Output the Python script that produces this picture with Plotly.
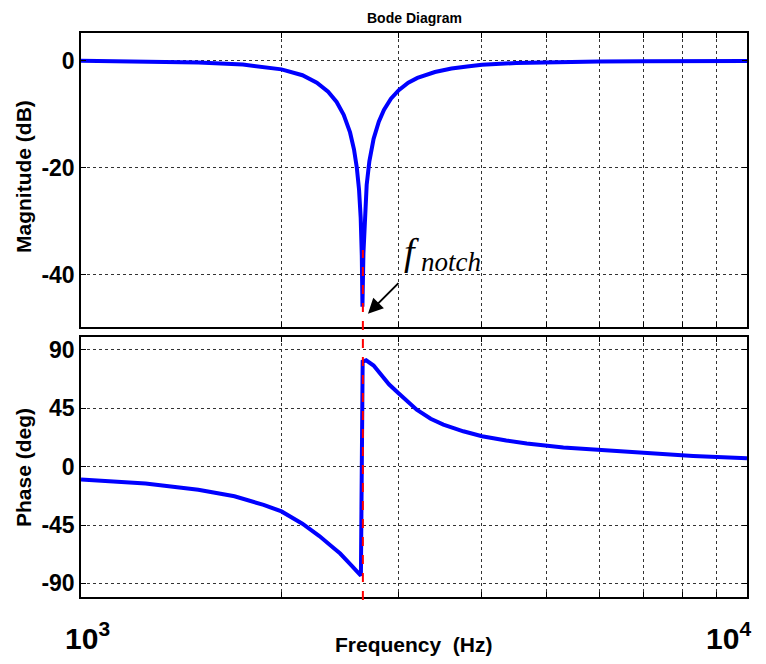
import math
import plotly.graph_objects as go

# ---- data ----
freq_mag = [1000, 1250, 1500, 1750, 2000, 2150, 2260, 2350, 2420, 2480, 2535, 2570,
            2595, 2615, 2630, 2640, 2646, 2655, 2668, 2685, 2710, 2750, 2800, 2850,
            2920, 3000, 3100, 3200, 3400, 3600, 3800, 4000, 4500, 5000, 6000, 7000,
            8500, 10000]
mag_db = [0.0, -0.1, -0.3, -0.7, -1.6, -2.7, -4.1, -5.8, -7.7, -10.1, -13.4, -16.6,
          -20.0, -24.1, -29.4, -36.4, -46.0, -36.0, -28.5, -23.2, -18.8, -14.6, -11.4, -9.2,
          -7.1, -5.5, -4.1, -3.2, -2.1, -1.45, -1.05, -0.75, -0.4, -0.25, -0.15, -0.1,
          -0.07, -0.05]

freq_ph = [1000, 1250, 1500, 1700, 1880, 2000, 2150, 2280, 2380, 2450, 2530, 2580,
           2610, 2632, 2648, 2680, 2750, 2811, 2900, 2995, 3100, 3192, 3350, 3500,
           3750, 4000, 4350, 4670, 5300, 6000, 7000, 8300, 10000]
phase_deg = [-9.8, -13.0, -17.8, -22.8, -29.5, -34.5, -44.0, -53.5, -61.5, -67.0, -74.5, -79.5,
             -82.5, -84.0, 81.0, 82.0, 78.0, 72.0, 63.5, 56.8, 49.5, 44.0, 37.0, 32.5,
             27.3, 23.5, 20.2, 17.8, 14.8, 12.8, 10.3, 8.3, 6.5]

f_notch = 2650

x_gridvals = [1000, 2000, 3000, 4000, 5000, 6000, 7000, 8000, 9000, 10000]
x_labelvals = [1000, 10000]
x_labeltext = ["10<sup>3</sup>", "10<sup>4</sup>"]
mag_ticks = [-40, -20, 0]
mag_ticktext = ["-40", "-20", "0"]
phase_ticks = [-90, -45, 0, 45, 90]
phase_ticktext = ["-90", "-45", "0", "45", "90"]

# ---- geometry (page is drawn with an 8px body margin) ----
OFF = 8
W, H = 766 - OFF, 664 - OFF
ML, MR, MT, MB = 81 - OFF, 19, 33 - OFF, 67
PW, PH = W - ML - MR, H - MT - MB
PLOT_L, PLOT_B = 81, 597


def px_x(px):
    return (px - PLOT_L) / PW


def px_y(py):
    return (PLOT_B - py) / PH


fig = go.Figure()
blue = "rgb(0,0,255)"
fig.add_trace(go.Scatter(x=freq_mag, y=mag_db, mode="lines",
                         line=dict(color=blue, width=4), xaxis="x", yaxis="y",
                         showlegend=False))
fig.add_trace(go.Scatter(x=freq_ph, y=phase_deg, mode="lines",
                         line=dict(color=blue, width=4), xaxis="x2", yaxis="y2",
                         showlegend=False))

axis_common = dict(showline=True, linecolor="black", linewidth=1.5, mirror="ticks",
                   ticks="inside", ticklen=5, tickcolor="black", automargin=False,
                   showgrid=True, gridcolor="#333", griddash="dot", gridwidth=1,
                   zeroline=False)
FONT = "Liberation Sans, Arial"
tickfont = dict(family=FONT, size=23, color="black", weight="bold")

fig.update_layout(
    width=W, height=H,
    margin=dict(l=ML, r=MR, t=MT, b=MB),
    paper_bgcolor="white", plot_bgcolor="white",
    xaxis=dict(type="log", range=[3, 4], domain=[0, 1], anchor="y",
               tickvals=x_gridvals, showticklabels=False, **axis_common),
    yaxis=dict(range=[-49.8, 5.2], domain=[0.4787, 1], anchor="x",
               tickvals=mag_ticks, ticktext=mag_ticktext, tickfont=tickfont,
               **axis_common),
    xaxis2=dict(type="log", range=[3, 4], domain=[0, 1], anchor="y2",
                tickvals=x_gridvals, showticklabels=False, **axis_common),
    yaxis2=dict(range=[-100.5, 100], domain=[0, 0.461], anchor="x2",
                tickvals=phase_ticks, ticktext=phase_ticktext, tickfont=tickfont,
                **axis_common),
)

# x tick labels (decades) placed like the reference
for v, t, sh in zip(x_labelvals, x_labeltext, [6, -19]):
    fig.add_annotation(xref="x2", yref="paper", x=math.log10(v), y=px_y(636),
                       text="<b>" + t + "</b>", showarrow=False, xshift=sh,
                       xanchor="center", yanchor="middle",
                       font=dict(family=FONT, size=30, color="black"))

# titles
fig.add_annotation(xref="paper", yref="paper", x=px_x(414), y=px_y(18),
                   text="<b>Bode Diagram</b>", showarrow=False,
                   xanchor="center", yanchor="middle",
                   font=dict(family=FONT, size=14, color="black"))
fig.add_annotation(xref="paper", yref="paper", x=px_x(23), y=px_y(177),
                   text="<b>Magnitude (dB)</b>", showarrow=False, textangle=-90,
                   xanchor="center", yanchor="middle",
                   font=dict(family=FONT, size=21, color="black"))
fig.add_annotation(xref="paper", yref="paper", x=px_x(23), y=px_y(468),
                   text="<b>Phase (deg)</b>", showarrow=False, textangle=-90,
                   xanchor="center", yanchor="middle",
                   font=dict(family=FONT, size=21, color="black"))
fig.add_annotation(xref="paper", yref="paper", x=px_x(414), y=px_y(644),
                   text="<b>Frequency\u00a0 (Hz)</b>", showarrow=False,
                   xanchor="center", yanchor="middle",
                   font=dict(family=FONT, size=21, color="black"))

# red dashed marker line at the notch frequency
fig.add_shape(type="line", xref="x", yref="paper", x0=f_notch, x1=f_notch,
              y0=px_y(600), y1=px_y(250), line=dict(color="red", width=2, dash="dash"))

# arrow (annotation x on log axes is given in log10 units)
fig.add_annotation(xref="x", yref="y", x=math.log10(2697), y=-47.3, ax=32, ay=-32,
                   text="", showarrow=True, arrowhead=2, arrowsize=1.5,
                   arrowwidth=2, arrowcolor="black")
# label f_notch
fig.add_annotation(xref="paper", yref="paper", x=px_x(411), y=px_y(252),
                   xanchor="center", yanchor="middle",
                   text="<i>f</i>", showarrow=False,
                   font=dict(family="Liberation Serif, Times New Roman", size=38, color="black"))
fig.add_annotation(xref="paper", yref="paper", x=px_x(419), y=px_y(262),
                   xanchor="left", yanchor="middle",
                   text="<i>notch</i>", showarrow=False,
                   font=dict(family="Liberation Serif, Times New Roman", size=27, color="black"))

fig.write_html("out.html")
